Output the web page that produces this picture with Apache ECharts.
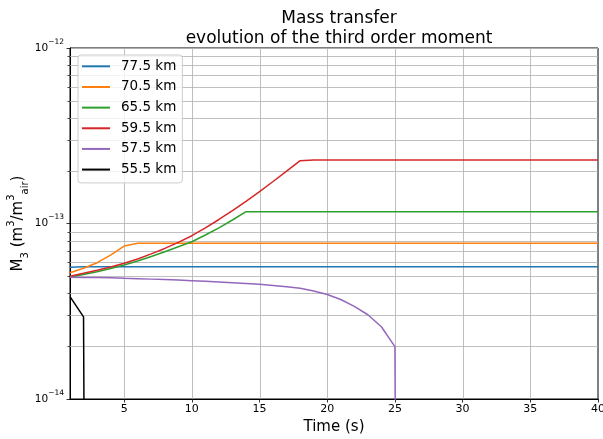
<!DOCTYPE html>
<html><head><meta charset="utf-8">
<script src="https://cdn.jsdelivr.net/npm/echarts@6/dist/echarts.min.js"></script>
<style>html,body{margin:0;padding:0;background:#fff}#c{width:603px;height:439px}</style>
</head><body><div id="c"></div>
<script>
const TIME = [1,2,3,4,5,6,7,8,9,10,11,12,13,14,15,16,17,18,19,20,
              21,22,23,24,25,26,27,28,29,30,31,32,33,34,35,36,37,38,39,40];

const SERIES_NAMES = ['77.5 km','70.5 km','65.5 km','59.5 km','57.5 km','55.5 km'];
const SERIES_COLORS = ['#1f77b4','#ff7f0e','#2ca02c','#d62728','#9467bd','#000000'];

const M3_77_5 = [5.63e-14,5.67e-14,5.67e-14,5.67e-14,5.67e-14,5.67e-14,5.67e-14,5.67e-14,5.67e-14,5.67e-14,
                 5.67e-14,5.67e-14,5.67e-14,5.67e-14,5.67e-14,5.67e-14,5.67e-14,5.67e-14,5.67e-14,5.67e-14,
                 5.67e-14,5.67e-14,5.67e-14,5.67e-14,5.67e-14,5.67e-14,5.67e-14,5.67e-14,5.67e-14,5.67e-14,
                 5.67e-14,5.67e-14,5.67e-14,5.67e-14,5.67e-14,5.67e-14,5.67e-14,5.67e-14,5.67e-14,5.67e-14];
const M3_70_5 = [5.245e-14,5.56e-14,5.98e-14,6.61e-14,7.44e-14,7.71e-14,7.71e-14,7.71e-14,7.71e-14,7.71e-14,
                 7.71e-14,7.71e-14,7.71e-14,7.71e-14,7.71e-14,7.71e-14,7.71e-14,7.71e-14,7.71e-14,7.71e-14,
                 7.71e-14,7.71e-14,7.71e-14,7.71e-14,7.71e-14,7.71e-14,7.71e-14,7.71e-14,7.71e-14,7.71e-14,
                 7.71e-14,7.71e-14,7.71e-14,7.71e-14,7.71e-14,7.71e-14,7.71e-14,7.71e-14,7.71e-14,7.71e-14];
const M3_65_5 = [4.96e-14,5.12e-14,5.31e-14,5.54e-14,5.80e-14,6.11e-14,6.48e-14,6.90e-14,7.37e-14,7.87e-14,
                 8.60e-14,9.45e-14,1.047e-13,1.167e-13,1.167e-13,1.167e-13,1.167e-13,1.167e-13,1.167e-13,1.167e-13,
                 1.167e-13,1.167e-13,1.167e-13,1.167e-13,1.167e-13,1.167e-13,1.167e-13,1.167e-13,1.167e-13,1.167e-13,
                 1.167e-13,1.167e-13,1.167e-13,1.167e-13,1.167e-13,1.167e-13,1.167e-13,1.167e-13,1.167e-13,1.167e-13];
const M3_59_5 = [5.00e-14,5.20e-14,5.42e-14,5.65e-14,5.93e-14,6.28e-14,6.71e-14,7.21e-14,7.80e-14,8.52e-14,
                 9.44e-14,1.054e-13,1.184e-13,1.338e-13,1.518e-13,1.735e-13,1.989e-13,2.279e-13,2.30e-13,2.30e-13,
                 2.30e-13,2.30e-13,2.30e-13,2.30e-13,2.30e-13,2.30e-13,2.30e-13,2.30e-13,2.30e-13,2.30e-13,
                 2.30e-13,2.30e-13,2.30e-13,2.30e-13,2.30e-13,2.30e-13,2.30e-13,2.30e-13,2.30e-13,2.30e-13];
const M3_57_5 = [4.935e-14,4.93e-14,4.917e-14,4.90e-14,4.87e-14,4.85e-14,4.82e-14,4.79e-14,4.76e-14,4.72e-14,
                 4.68e-14,4.64e-14,4.60e-14,4.55e-14,4.50e-14,4.43e-14,4.36e-14,4.27e-14,4.13e-14,3.94e-14,
                 3.69e-14,3.37e-14,3.02e-14,2.58e-14,1.99e-14,0,0,0,0,0,
                 0,0,0,0,0,0,0,0,0,0];
const M3_55_5 = [3.83e-14,2.94e-14,0,0,0,0,0,0,0,0,
                 0,0,0,0,0,0,0,0,0,0,
                 0,0,0,0,0,0,0,0,0,0,
                 0,0,0,0,0,0,0,0,0,0];

const X_TICKS = [5,10,15,20,25,30,35,40];
const X_GRID = [5,10,15,20,25,30,35];
const Y_MINOR = [2e-14,3e-14,4e-14,5e-14,6e-14,7e-14,8e-14,9e-14,
                 2e-13,3e-13,4e-13,5e-13,6e-13,7e-13,8e-13,9e-13];
const X_MIN = 1, X_MAX = 40, Y_MIN = 1e-14, Y_MAX = 1e-12;
const LOG_FLOOR = 1e-30; // stands in for zero on the log axis

const ALL = [M3_77_5, M3_70_5, M3_65_5, M3_59_5, M3_57_5, M3_55_5];
const FONT = 'DejaVu Sans';
const GRID_COLOR = '#b0b0b0';

const chart = echarts.init(document.getElementById('c'), null, {renderer: 'canvas'});

const lineSeries = ALL.map((vals, k) => ({
  name: SERIES_NAMES[k],
  type: 'line',
  data: TIME.map((t, i) => [t, vals[i] > 0 ? vals[i] : LOG_FLOOR]),
  showSymbol: false,
  symbol: 'none',
  clip: true,
  z: 5,
  color: SERIES_COLORS[k],
  lineStyle: {width: 1.5, color: SERIES_COLORS[k]},
  emphasis: {disabled: true},
  animation: false
}));

const yMinorSeries = {
  type: 'custom',
  silent: true,
  z: 1,
  animation: false,
  data: Y_MINOR.map(v => [X_MIN, v]),
  encode: {x: 0, y: 1},
  renderItem: function (params, api) {
    const cs = params.coordSys;
    const y = Math.round(api.coord([X_MIN, api.value(1)])[1]) + 0.5;
    return {type: 'group', children: [
      {type: 'line', shape: {x1: cs.x, y1: y, x2: cs.x + cs.width, y2: y},
       style: {stroke: GRID_COLOR, lineWidth: 0.8}},
      {type: 'line', shape: {x1: cs.x - 2.5, y1: y, x2: cs.x, y2: y},
       style: {stroke: '#000', lineWidth: 0.7}}
    ]};
  }
};

const xGridSeries = {
  type: 'custom',
  silent: true,
  z: 1,
  animation: false,
  data: X_GRID.map(v => [v, Y_MIN]),
  encode: {x: 0, y: 1},
  renderItem: function (params, api) {
    const cs = params.coordSys;
    const x = Math.round(api.coord([api.value(0), Y_MIN])[0]) + 0.5;
    return {type: 'line', shape: {x1: x, y1: cs.y, x2: x, y2: cs.y + cs.height},
            style: {stroke: GRID_COLOR, lineWidth: 0.8}};
  }
};

chart.setOption({
  animation: false,
  backgroundColor: '#fff',
  title: {
    text: 'Mass transfer\nevolution of the third order moment',
    left: 334, top: 4, textAlign: 'center',
    textStyle: {fontFamily: FONT, fontSize: 17, fontWeight: 'normal', color: '#000', lineHeight: 20}
  },
  legend: {
    data: SERIES_NAMES,
    orient: 'vertical',
    left: 78, top: 55,
    padding: [1, 6, 3, 4],
    itemGap: 0,
    itemWidth: 28, itemHeight: 2,
    icon: 'rect',
    backgroundColor: 'rgba(255,255,255,0.8)',
    borderColor: '#cccccc', borderWidth: 1, borderRadius: 3,
    selectedMode: false,
    textStyle: {fontFamily: FONT, fontSize: 13.5, color: '#000', lineHeight: 20.65, padding: [0, 0, 0, 6]}
  },
  grid: {left: 70, right: 5, top: 48, bottom: 40, show: true, borderColor: '#000', borderWidth: 1,
         backgroundColor: '#fff', containLabel: false, outerBoundsMode: 'none'},
  xAxis: {
    type: 'value', min: X_MIN, max: X_MAX,
    name: 'Time (s)', nameLocation: 'middle', nameGap: 21, nameMoveOverlap: false,
    nameTextStyle: {fontFamily: FONT, fontSize: 15, color: '#000'},
    axisLine: {show: true, lineStyle: {color: '#000', width: 1}},
    axisTick: {show: true, customValues: X_TICKS, length: 3.5, lineStyle: {color: '#000', width: 0.8}},
    axisLabel: {customValues: X_TICKS, fontFamily: FONT, fontSize: 11, color: '#000', margin: 5},
    splitLine: {show: false}
  },
  yAxis: {
    type: 'log', logBase: 10, min: Y_MIN, max: Y_MAX,
    name: 'M{sub|3} (m{sup|3}/m{sup|3}{sub|air})', nameLocation: 'middle', nameGap: 40, nameRotate: 90,
    nameMoveOverlap: false,
    nameTextStyle: {fontFamily: FONT, fontSize: 15, color: '#000',
      rich: {
        sub: {fontFamily: FONT, fontSize: 10, verticalAlign: 'bottom', lineHeight: 24, color: '#000'},
        sup: {fontFamily: FONT, fontSize: 10, verticalAlign: 'top', lineHeight: 16, color: '#000'}
      }},
    axisLine: {show: true, lineStyle: {color: '#000', width: 1}},
    axisTick: {show: true, length: 3.5, lineStyle: {color: '#000', width: 0.8}},
    axisLabel: {
      margin: 6,
      formatter: function (v) {
        const e = Math.round(Math.log10(v));
        return '{b|10}{s|' + (e < 0 ? '\u2212' : '') + Math.abs(e) + '}';
      },
      rich: {
        b: {fontFamily: FONT, fontSize: 10.5, color: '#000', lineHeight: 20},
        s: {fontFamily: FONT, fontSize: 7.5, color: '#000', verticalAlign: 'top', lineHeight: 10}
      }
    },
    splitLine: {show: true, lineStyle: {color: GRID_COLOR, width: 0.8}}
  },
  series: [xGridSeries, yMinorSeries].concat(lineSeries)
});
</script>
</body></html>
